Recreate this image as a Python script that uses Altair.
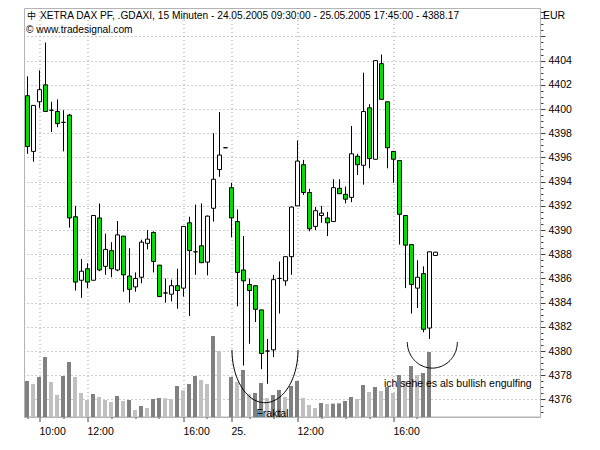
import altair as alt
import pandas as pd

# ---- 15-minute bars, index 0 = 24.05.2005 09:30 ----
opens = [4401.1, 4396.5, 4400.6, 4402.0, 4399.9, 4399.8, 4398.9, 4399.5, 4391.1, 4385.85,
         4386.8, 4385.85, 4391.0, 4387.0, 4388.3, 4386.7, 4389.5, 4386.2, 4385.3, 4386.1,
         4388.9, 4389.8, 4387.1, 4384.8, 4384.7, 4385.4, 4385.2, 4390.6, 4388.2, 4388.7,
         4387.35, 4391.8, 4395.0, 4396.8,
         4393.5, 4390.7, 4386.7, 4385.5, 4385.4, 4383.4, 4380.0, 4380.1, 4386.0, 4385.8,
         4387.8, 4392.0, 4395.4, 4393.1, 4390.3, 4391.2, 4391.0, 4390.7, 4393.45, 4392.95,
         4392.7, 4396.1, 4395.35, 4400.1, 4395.85, 4403.75, 4400.6, 4396.5, 4395.75, 4391.2,
         4388.8, 4385.2, 4386.4, 4381.9, 4387.9]
highs = [4402.7, 4400.3, 4403.2, 4405.5, 4400.6, 4400.8, 4399.9, 4399.6, 4392.0, 4387.6,
         4387.25, 4391.2, 4392.2, 4389.7, 4389.0, 4390.75, 4389.5, 4388.5, 4386.5, 4389.2,
         4390.0, 4389.9, 4387.1, 4386.0, 4385.9, 4386.8, 4390.3, 4391.1, 4392.1, 4392.2,
         4391.2, 4398.0, 4399.75, 4396.8,
         4393.9, 4391.7, 4389.5, 4386.0, 4385.4, 4383.4, 4381.0, 4386.3, 4387.4, 4387.8,
         4391.95, 4397.4, 4395.8, 4393.4, 4391.9, 4392.0, 4391.5, 4394.2, 4394.2, 4393.6,
         4398.6, 4396.3, 4403.0, 4400.4, 4404.0, 4404.5, 4400.6, 4396.5, 4395.75, 4391.2,
         4388.8, 4387.5, 4387.0, 4388.2, 4388.2]
lows = [4396.3, 4395.65, 4400.1, 4399.8, 4398.1, 4398.5, 4396.5, 4390.2, 4385.0, 4384.4,
        4385.2, 4385.85, 4386.6, 4386.3, 4386.1, 4386.6, 4384.9, 4384.0, 4384.9, 4385.6,
        4388.4, 4386.5, 4384.5, 4384.0, 4384.1, 4383.5, 4384.5, 4382.9, 4386.3, 4387.3,
        4386.25, 4390.7, 4394.4, 4396.8,
        4389.4, 4383.7, 4378.8, 4380.6, 4382.4, 4378.5, 4377.3, 4379.5, 4383.1, 4385.4,
        4386.3, 4392.0, 4392.9, 4389.9, 4390.0, 4390.6, 4389.5, 4390.7, 4393.0, 4392.2,
        4392.3, 4394.55, 4393.75, 4395.1, 4395.85, 4400.8, 4395.1, 4393.9, 4388.8, 4385.2,
        4383.1, 4383.55, 4381.55, 4381.0, 4387.9]
closes = [4396.9, 4400.3, 4401.6, 4399.8, 4399.9, 4398.8, 4398.9, 4391.0, 4385.7, 4386.6,
          4385.7, 4391.2, 4386.7, 4388.4, 4386.8, 4389.6, 4386.3, 4385.1, 4386.0, 4389.0,
          4389.25, 4387.4, 4384.5, 4384.8, 4385.4, 4385.0, 4390.3, 4388.3, 4388.2, 4387.3,
          4391.15, 4394.2, 4396.2, 4396.8,
          4391.0, 4386.5, 4385.8, 4385.0, 4383.45, 4379.8, 4380.0, 4385.9, 4386.0, 4387.8,
          4391.9, 4395.7, 4393.1, 4390.1, 4391.6, 4391.4, 4390.6, 4393.5, 4393.0, 4392.55,
          4396.3, 4395.4, 4399.8, 4395.9, 4404.0, 4400.8, 4396.8, 4395.85, 4391.3, 4388.75,
          4385.5, 4386.1, 4381.8, 4388.2, 4388.17]
volumes = [108, 99, 120, 180, 105, 66, 123, 165, 120, 72,
           51, 69, 60, 51, 45, 63, 48, 51, 21, 33,
           27, 54, 57, 56, 54, 93, 80, 99, 123, 111,
           99, 243, 198, 0,
           120, 105, 141, 69, 72, 102, 57, 66, 81, 60,
           93, 108, 57, 36, 27, 42, 39, 40, 41, 48,
           60, 54, 96, 75, 90, 78, 90, 72, 126, 108,
           153, 126, 132, 195, 0]

# axis ticks (bar index) and labels
major_ticks = [2, 10, 26, 34, 45, 61]
major_labels = ["10:00", "12:00", "16:00", "25.", "12:00", "16:00"]
minor_ticks = [0, 6, 14, 18, 22, 30, 37, 41, 49, 53, 57, 65]
price_ticks = [4375 + 0.5 * k for k in range(67)]

title_text = "XETRA DAX PF, .GDAXI, 15 Minuten - 24.05.2005 09:30:00 - 25.05.2005 17:45:00 - 4388.17"
copyright_text = "\u00a9 www.tradesignal.com"
currency_text = "EUR"
fraktal_text = "Fraktal"
engulf_text = "ich sehe es als bullish engulfing"

df = pd.DataFrame({"i": list(range(len(opens))), "open": opens, "high": highs,
                   "low": lows, "close": closes, "volume": volumes})
df["vol_up"] = df["volume"] > df["volume"].shift(1).fillna(-1)

FONT = "Liberation Sans"
GREEN = "#00e000"
X_DOMAIN = [-3.5 / 6, 86 - 3.5 / 6]
Y_DOMAIN = [4374.55, 4408.35]
W, H = 516, 409

major_test = "indexof([" + ",".join(str(v) for v in major_ticks) + "], datum.value) >= 0"
label_expr = "".join(f"datum.value === {v} ? '{l}' : " for v, l in zip(major_ticks, major_labels)) + "''"

x_axis = alt.Axis(
    values=sorted(major_ticks + minor_ticks), labelExpr=label_expr, title=None,
    tickSize={"condition": {"test": major_test, "value": 5}, "value": 2},
    grid=True, gridOpacity={"condition": {"test": major_test, "value": 1}, "value": 0},
    gridDash=[1, 3], gridColor="#9a9a9a", labelAlign="left", labelPadding=5,
    labelFont=FONT, labelFontSize=10.5, labelColor="black", labelOverlap=False,
    labelFlush=False, domainColor="#b4b4b4", tickColor="#404040", translate=0,
)
x_scale = alt.Scale(domain=X_DOMAIN, nice=False, zero=False, padding=0)
x_enc = alt.X("i:Q", scale=x_scale, axis=x_axis)

even_test = "datum.value % 2 === 0"
y_axis = alt.Axis(
    orient="right", values=price_ticks, title=None,
    labelExpr="datum.value % 2 === 0 && datum.value <= 4404 ? format(datum.value, 'd') : ''",
    tickSize={"condition": {"test": even_test, "value": 5}, "value": 3},
    grid=True, gridOpacity={"condition": {"test": even_test + " && datum.value <= 4406", "value": 1}, "value": 0},
    gridDash=[1, 3], gridColor="#9a9a9a", labelPadding=3,
    labelFont=FONT, labelFontSize=10.5, labelColor="black", labelOverlap=False,
    labelFlush=False, domainColor="#b4b4b4", tickColor="#404040",
)
y_scale = alt.Scale(domain=Y_DOMAIN, nice=False, zero=False, padding=0)

base = alt.Chart(df)

vol = base.mark_bar(size=4, xOffset=-0.5).encode(
    x=x_enc,
    y=alt.Y("volume:Q", scale=alt.Scale(domain=[0, 1227], nice=False, padding=0), axis=None),
    color=alt.condition("datum.vol_up", alt.value("#808080"), alt.value("#c0c0c0")),
)

wicks = base.mark_rule(color="black", strokeWidth=1).encode(
    x=x_enc,
    y=alt.Y("low:Q", scale=y_scale, axis=y_axis),
    y2="high:Q",
)

bodies = base.mark_bar(size=4, stroke="black", strokeWidth=1).encode(
    x=x_enc,
    y=alt.Y("open:Q", scale=y_scale, axis=None),
    y2="close:Q",
    color=alt.condition("datum.close < datum.open", alt.value(GREEN), alt.value("white")),
)


def half_ellipse(cx, cy, rx, ry):
    return alt.Chart(alt.sequence(0, 181, 3, as_="deg")).transform_calculate(
        ax=f"{cx} + {rx} * cos(datum.deg * PI / 180)",
        ay=f"{cy} - {ry} * sin(datum.deg * PI / 180)",
    ).mark_line(color="black", strokeWidth=1).encode(
        x=alt.X("ax:Q", scale=x_scale, axis=x_axis),
        y=alt.Y("ay:Q", scale=y_scale, axis=None),
        order="deg:Q",
    )


arc_fraktal = half_ellipse(39.58, 4380.09, 5.5, 4.36)
arc_engulf = half_ellipse(67.47, 4380.74, 4.17, 2.15)


def label(text, x, y, align="left", baseline="middle", size=10.5, font=FONT):
    return alt.Chart(pd.DataFrame({"t": [text]})).mark_text(
        align=align, baseline=baseline, fontSize=size, font=font, color="black"
    ).encode(x=alt.value(x), y=alt.value(y), text="t:N")


icon = label("\u4e2d", 7.5, 8, align="center", size=9, font="Noto Sans CJK SC")
title = label(title_text, 16, 8, size=10.2)
copyright = label(copyright_text, 2, 22, size=10.2)
currency = label(currency_text, 519, 8)
fraktal = label(fraktal_text, 248.5, 409, align="center", baseline="alphabetic")
engulf = label(engulf_text, 360, 376)

chart = alt.layer(
    vol, wicks, bodies, arc_fraktal, arc_engulf,
    icon, title, copyright, currency, fraktal, engulf,
).resolve_scale(y="independent").properties(
    width=W, height=H,
    padding={"left": 16, "top": 0, "right": 50, "bottom": 30},
    autosize=alt.AutoSizeParams(type="none"),
    background="white",
).configure_view(stroke="#b4b4b4", strokeWidth=1)

chart.save("out.html", embed_options={"renderer": "svg", "actions": False})
